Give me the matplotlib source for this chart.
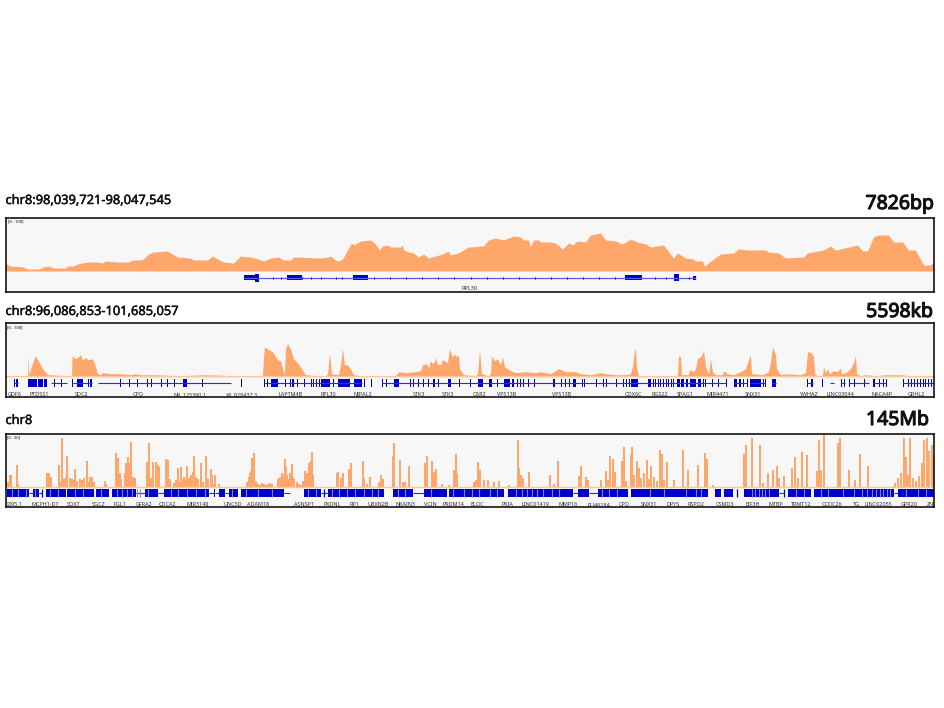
import matplotlib
matplotlib.use("Agg")
import matplotlib.pyplot as plt
import matplotlib.patheffects as pe

W, H = 944, 708
ORANGE = "#ffa76b"
BLUE = "#0000cc"
LINE_BLUE = "#5a5ae0"

plt.rcParams["font.family"] = ["Noto Sans", "DejaVu Sans"]

# track 1: coverage over the RPL30 locus
t1_x = [0,1,5,18,22,28,33,38,43,48,60,63,68,72,82,92,98,99,112,123,127,133,138,143,148,162,165,172,185,188,195,202,207,212,218,228,235,245,253,258,265,273,278,285,288,312,
        315,323,325,330,333,337,342,346,348,355,365,370,374,377,382,385,395,397,398,403,408,413,418,423,430,437,443,445,453,463,478,483,490,498,508,515,518,523,525,528,533,535,545,550,557,563,567,572,580,585,595,600,610,617,625,
        632,640,645,658,668,672,680,688,690,697,699,708,715,728,733,742,760,763,773,780,798,802,818,825,830,852,857,862,868,873,883,888,897,903,910,918,925,927,928]
t1_y = [7,7,5,4,2,2,2,4,5,3,3,5,5,7,9,9,8,10,9,9,11,11,12,17,19,20,18,14,13,11,11,11,15,12,9,8,15,14,12,10,13,14,11,11,14,13,
        13,14,15,11,10,12,21,28,26,30,31,27,21,25,26,24,24,26,21,19,18,14,17,13,15,17,20,16,18,24,25,31,33,31,35,34,31,31,24,31,31,29,29,28,22,28,26,30,29,36,38,31,30,27,32,
        29,27,24,26,13,18,13,12,10,10,5,12,17,18,22,21,21,19,18,13,14,18,21,25,21,26,20,20,34,36,36,29,29,21,21,6,6,8,7]
t1_exon_x = [238, 249, 281, 347, 619, 668, 687]
t1_exon_w = [11, 4, 15, 15, 17, 5, 3]
t1_exon_h = [5, 8, 5, 5, 5, 7, 4]
t1_intron = [238, 690]
t1_marks = [267,275,296,305,315,330,336,368,384,400,416,432,448,465,481,497,513,529,545,561,577,593,609,649,660,683]

# track 2: coverage over 5.6 Mb
t2_x = [0,21.5,22,22.5,23.5,26,30,35,38,42,65.5,66,66.5,70,73,75,77,80,83,87,90,92,95,97,105,115,125,130,135,150,175,200,230,256,257,258,259,263,267,272,275,278,279,280,282,285,288,292,296,300,312,
        320,322,324,326,333,335,337,339,342,345,348,355,390,393,400,410,415,417,421,423,425,427,429,430,432,435,437,439,442,444,447,449,451,453,454,458,470,472,474,476,483,485,486,489,492,495,497,499,502,505,510,520,530,535,540,545,553,560,570,575,585,595,600,610,620,625,627,629,
        630,631,633,650,670,672,673,675,676,683,684,688,690,692,695,697,698,700,703,704,705,707,710,717,718,722,728,735,740,743,745,746,757,763,765,767,770,771,775,780,795,800,802,806,808,809,812,817,818,820,822,824,828,832,835,836,840,845,848,850,851,855,860,870,880,895,905,928]
t2_y = [1,1,1,21,2,11,21,12,7,2,1,1,21,18,20,22,17,19,17,18,10,3,2,4,3,3,2,3,2,2,1,2,1,1,1,20,30,27,25,17,16,4,4,28,33,28,18,14,8,2,1,
        1,3,24,3,2,12,28,12,12,8,2,1,1,5,4,5,6,12,13,9,16,13,15,19,12,12,17,16,14,28,20,23,20,22,8,2,1,3,26,3,1,3,21,16,18,12,20,10,8,6,4,5,4,5,4,3,8,5,5,3,2,4,3,2,2,3,10,27,
        27,10,1,1,1,2,21,20,2,2,7,5,8,18,20,23,27,10,3,10,18,5,2,2,6,3,2,5,8,17,22,3,2,5,15,30,22,8,2,3,2,4,25,24,20,3,1,1,10,4,8,3,6,5,9,3,4,8,14,21,3,1,2,1,2,2,1,1]
t2_exon_x = [8,10.5,22,29.5,32,38,48,55,66.5,71,82,84.5,114,123,131,141.5,145,155,161,168,177,196,235.5,258,261,265,279,284,286.5,291.5,298,305,307.5,310,313,
             315,327,332,348,358,365.5,376.5,380.5,388,404,407,412,417,422,427,432,442,453,464,472,483,491,498,506,511,514,517,522,528,547,555,559,563,567,576,578,590,597,600,610,617,620,623,625,
             642,647,649,652,654,657,660,662,665,667,671,675,680,684,692,697,699,706,712,720,728,733,737,741,744,757,759,766,801,805,816,835,838,843,848,858,867,873,877,880,897,902,905,908,911,914,917,919,922,925]
t2_exon_w = [1,2,7,2,5,3,1,1,1,6,1,2,1,1,1,1,1,1,1,1,4,1,1,1,1,7,1,1,2,1,1,1,1,1,1,
             9,1,12,8,1,1,1,1,5,1,1,1,1,1,2,1,3,1,1,5,3,1,6,2,1,1,1,1,1,2,1,1,1,3,1,1,1,1,1,1,1,1,1,7,
             3,1,1,1,1,1,1,1,1,1,3,3,2,6,3,1,1,1,1,1,3,2,1,1,11,1,1,4,1,2,1,1,1,1,1,1,2,1,1,1,1,1,1,1,1,1,1,1,1,1]
t2_intron_x0 = [8,45,67,92,258,376,728,744,766,801,824,835,843,867,897]
t2_intron_x1 = [12,61,86,225,356,720,741,759,770,807,828,839,863,880,928]
t2_names = ["GDF6","PTDSS1","SDC2","CPQ","NR_125390.1","XR_928437.3","LAPTM4B","RPL30","NIPAL2","STK3","STK3","OSR2","VPS13B","VPS13B","COX6C","RGS22","SPAG1","MIR4471","SNX31","YWHAZ","LINC03044","NACA4P","GRHL2"]
t2_name_x = [9,34,76,133,184,236,285,323,357,413,442,474,501,556,628,654,680,712,747,803,835,876,911]

# track 3: coverage over the whole chromosome
t3_x = [0,2,4,5,11,12,41,43,45,53,55,56,58,60,61,64,66,67,69,71,74,76,78,81,82,84,86,88,99,100,110,111,112,113,114,115,119,120,122,124,125,127,129,141,143,145,147,150,152,153,160,162,164,168,170,172,174,175,177,178,180,181,183,185,187,188,190,192,195,197,200,202,205,206,208,209,213,
        241,243,244,245,246,247,248,250,252,254,256,258,260,262,264,266,272,274,276,278,279,280,281,282,284,286,287,288,291,293,295,297,299,301,303,305,306,307,
        331,332,335,337,343,345,357,358,361,364,373,375,377,387,388,394,397,399,403,419,421,426,428,430,436,443,448,450,451,468,470,472,474,478,482,488,493,503,512,513,515,517,523,544,548,552,573,575,580,582,595,600,602,604,607,609,616,618,620,625,626,
        628,631,633,635,638,641,643,645,648,651,654,656,658,661,668,677,682,692,699,701,707,738,740,746,754,757,762,767,771,773,778,786,789,792,796,801,811,813,815,818,832,834,843,849,854,862,889,892,895,898,900,902,904,907,910,913,916,918,921,923,926,928]
t3_y = [6,5,12,12,22,3,14,14,10,22,5,49,8,10,31,9,8,7,18,6,8,7,9,26,5,10,10,5,6,3,34,20,29,8,14,8,14,24,30,24,45,10,9,25,44,9,25,25,22,20,28,27,8,4,7,19,5,20,7,10,8,21,9,12,15,31,10,8,24,5,31,8,18,12,3,12,3,
        5,10,14,16,29,20,34,6,3,2,4,3,2,3,4,3,8,10,14,12,28,20,12,8,14,23,10,8,5,3,2,6,16,14,24,26,35,12,
        14,15,9,14,18,24,26,9,3,10,5,12,8,31,44,27,5,5,21,24,31,26,15,18,3,2,17,33,14,5,7,25,17,7,7,5,6,2,47,19,12,9,15,12,3,26,11,21,10,7,7,16,7,31,28,15,26,40,6,32,40,
        12,26,19,9,14,27,8,21,10,6,37,33,7,25,7,37,17,22,34,28,2,33,42,49,42,4,14,17,21,9,11,19,30,9,35,32,16,47,17,52,44,49,17,7,33,21,4,9,14,49,30,12,49,9,6,11,24,47,49,36,42,30]
t3_band_x0 = [1,27,40,61,90,106,139,158,208,213,223,235,298,322,387,418,443,502,572,592,625,709,718,738,782,808,892]
t3_band_x1 = [23,33,60,88,103,130,152,203,209,219,232,278,315,378,407,441,498,567,583,622,702,715,727,773,805,888,928]
t3_line_x0 = [23,33,130,152,203,209,219,278,315,407,567,583,773,888]
t3_line_x1 = [27,36,139,158,208,213,223,284,322,418,572,592,778,892]
t3_single = [36,318,731,778]
t3_light = [6,12,20,29,44,52,69,77,95,111,116,121,126,131,134,142,165,172,181,190,199,226,240,252,266,302,310,326,333,341,349,358,366,372,392,399,425,447,458,466,473,484,491,510,516,521,526,531,537,546,553,596,603,611,644,658,680,690,695,746,749,753,756,759,763,790,798,815,822,837,848,856,861,866,870,874,877,881,884,900,912,920]
t3_names = ["S395.1","MCPH1-DT","SOX7","SGCZ","FGL1","GFRA2","CDCA2","MIR3148","UNC5D","ADAM18","ASNSP1","PXDNL","RP1","UBXN2B","NKAIN3","VCIN","PRDM14","ELOC","PKIA","LINC01419","MMP16","FLJ46284","CPQ","SNX31","DPYS","RSPO2","CSMD3","EIF3H","MTBP","TRMT12","CCDC26","TG","LINC02055","GPR20","ZN"]
t3_name_x = [9,40,68,93,114,138,162,192,227,253,298,327,349,373,400,425,448,472,502,530,563,593,619,643,668,691,719,747,770,796,827,851,873,904,925]


def panel(top, bottom, base):
    # axes placed by pixel box, x counts columns from the left edge, y counts up from the signal baseline
    left, right = 5.5, 933.5
    ax = fig.add_axes([left / W, 1 - bottom / H, (right - left) / W, (bottom - top) / H])
    ax.set_xlim(0, 928)
    ax.set_ylim(base - bottom, base - top)
    ax.set_facecolor("#f7f7f7")
    ax.set_xticks([])
    ax.set_yticks([])
    for s in ax.spines.values():
        s.set_linewidth(1.1)
        s.set_color("black")
    return ax


def gene_labels(ax, names, xs, y):
    for name, x in zip(names, xs):
        ax.text(x, y, name, fontsize=3.9, color="#333333", ha="center", va="center", clip_on=True)


fig = plt.figure(figsize=(W / 100, H / 100), dpi=100)

# --- track 1 ---
ax1 = panel(218, 292, 271)
ax1.fill_between(t1_x, 0, t1_y, color=ORANGE, lw=0)
ax1.hlines(-6.7, t1_intron[0], t1_intron[1], color=LINE_BLUE, lw=0.9)
ax1.vlines(t1_marks, -7.7, -5.7, color=BLUE, lw=0.7)
for x, w, h in zip(t1_exon_x, t1_exon_w, t1_exon_h):
    ax1.barh(-6.7, w, height=h, left=x, color=BLUE, lw=0)
ax1.text(464, -17.8, "RPL30", fontsize=4.1, color="#333333", ha="center", va="center")
ax1.text(2.5, 49.5, "[0 - 100]", fontsize=2.9, color="#000000", va="center")

# --- track 2 ---
ax2 = panel(323, 397.3, 376.7)
ax2.fill_between(t2_x, 0, t2_y, color=ORANGE, lw=0)
ax2.hlines(0.3, 0, 928, color="#ffc59c", lw=0.8)
ax2.hlines([-6.6] * len(t2_intron_x0), t2_intron_x0, t2_intron_x1, color="#2a2ad8", lw=0.8)
ax2.bar(t2_exon_x, [8] * len(t2_exon_x), width=t2_exon_w, bottom=-10.6, align="edge", color=BLUE, lw=0)
gene_labels(ax2, t2_names, t2_name_x, -18)
ax2.text(1.5, 49.5, "[0 - 100]", fontsize=2.9, color="#000000", va="center")

# --- track 3 ---
ax3 = panel(433.7, 506.7, 487)
ax3.bar(t3_x, t3_y, width=2.0, color=ORANGE, lw=0)
ax3.hlines(0.2, 0, 928, color="#ffc59c", lw=1.0)
ax3.hlines([-6.3] * len(t3_line_x0), t3_line_x0, t3_line_x1, color="#2a2ad8", lw=0.8)
ax3.barh([-6.3] * len(t3_band_x0), [b - a for a, b in zip(t3_band_x0, t3_band_x1)], left=t3_band_x0, height=8, color=BLUE, lw=0)
ax3.vlines(t3_single, -10.3, -2.3, color=BLUE, lw=0.9)
ax3.vlines(t3_light, -10.3, -2.3, color="#8080f0", lw=0.8)
gene_labels(ax3, t3_names, t3_name_x, -17.6)
ax3.text(1.5, 49.5, "[0 - 30]", fontsize=2.9, color="#000000", va="center")

# --- headers ---
left_titles = ["chr8:98,039,721-98,047,545", "chr8:96,086,853-101,685,057", "chr8"]
right_titles = ["7826bp", "5598kb", "145Mb"]
left_y = [200.5, 311.5, 420.5]
right_y = [204, 312, 420]
right_x = [934, 933, 929]
for txt, y in zip(left_titles, left_y):
    t = fig.text(5.5 / W, 1 - y / H, txt, fontsize=9.25, color="#111111", ha="left", va="center")
    t.set_path_effects([pe.withStroke(linewidth=0.35, foreground="#111111")])
for txt, x, y in zip(right_titles, right_x, right_y):
    t = fig.text(x / W, 1 - y / H, txt, fontsize=14, color="#111111", ha="right", va="center")
    t.set_path_effects([pe.withStroke(linewidth=0.8, foreground="#111111")])

fig.savefig("out.png", dpi=100)
